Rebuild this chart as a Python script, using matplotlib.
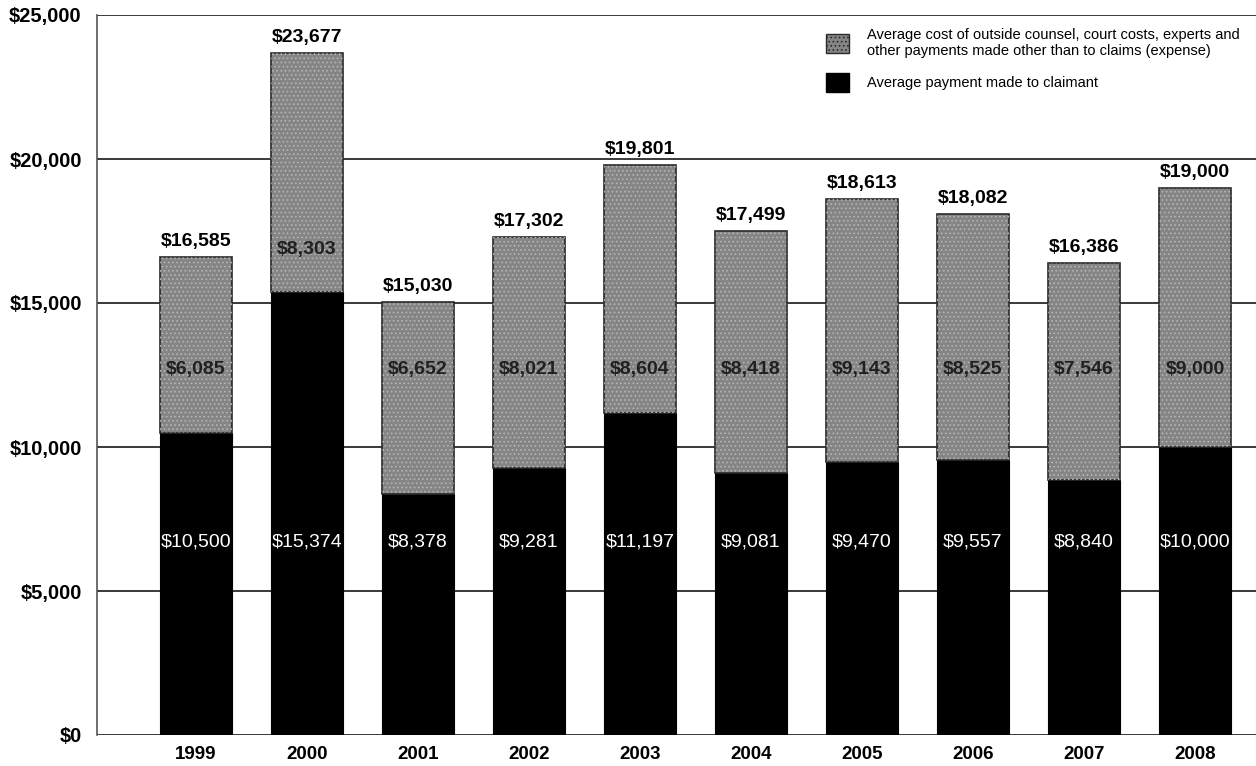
import matplotlib
matplotlib.use("Agg")
import matplotlib.pyplot as plt
from matplotlib.patches import Patch
import numpy as np

plt.rcParams['font.family'] = ['Liberation Sans', 'DejaVu Sans']
plt.rcParams['hatch.linewidth'] = 0.7

years = ['1999', '2000', '2001', '2002', '2003', '2004', '2005', '2006', '2007', '2008']
payment = [10500, 15374, 8378, 9281, 11197, 9081, 9470, 9557, 8840, 10000]
expense = [6085, 8303, 6652, 8021, 8604, 8418, 9143, 8525, 7546, 9000]
yticks = [0, 5000, 10000, 15000, 20000, 25000]

total = [p + e for p, e in zip(payment, expense)]
x = np.arange(len(years))
w = 0.65

fig = plt.figure(figsize=(12.56, 7.66), dpi=100)
ax = fig.add_axes([97 / 1256, 31 / 766, 1159 / 1256, 720 / 766])

# grid lines
for v in yticks:
    ax.axhline(v, color='#2a2a2a', lw=1.3, zorder=1)

ax.bar(x, payment, w, color='black', edgecolor='black', lw=0.8, zorder=3)
ax.bar(x, expense, w, bottom=payment, color='#858585', edgecolor='#2a2a2a', lw=1.2, zorder=3)
ax.bar(x, expense, w, bottom=payment, color='none', edgecolor='#b5b5b5', lw=0, hatch='....', zorder=4)

for i in range(len(years)):
    ax.text(x[i], total[i] + 250, f'${total[i]:,}', ha='center', va='bottom',
            fontsize=14, fontweight='bold', color='black')
    ax.text(x[i], 6700, f'${payment[i]:,}', ha='center', va='center',
            fontsize=14, color='white')
    ye = max(12700, payment[i] + 1500)
    ax.text(x[i], ye, f'${expense[i]:,}', ha='center', va='center',
            fontsize=14, fontweight='bold', color='#202020', zorder=5)

ax.set_xlim(-0.89, 9.55)
ax.set_ylim(0, 25000)
ax.set_yticks(yticks)
ax.set_yticklabels([f'${v:,}' for v in yticks], fontsize=14.5, fontweight='bold')
ax.set_xticks(x)
ax.set_xticklabels(years, fontsize=13.5, fontweight='bold')
ax.tick_params(axis='both', length=0)
ax.tick_params(axis='x', pad=8)
ax.tick_params(axis='y', pad=11)

for s in ['top', 'right', 'bottom']:
    ax.spines[s].set_visible(False)
ax.spines['left'].set_color('#555555')
ax.spines['left'].set_linestyle((0, (1, 1)))
ax.spines['left'].set_linewidth(1.2)

handles = [
    Patch(facecolor='#858585', edgecolor='#2a2a2a', hatch='....',
          label='Average cost of outside counsel, court costs, experts and\nother payments made other than to claims (expense)'),
    Patch(facecolor='black', edgecolor='black', label='Average payment made to claimant'),
]
leg = ax.legend(handles=handles, loc='upper left', bbox_to_anchor=(0.624, 0.99),
                frameon=False, fontsize=10.5, handlelength=1.6, handleheight=1.6,
                handletextpad=1.2, labelspacing=1.0, borderaxespad=0)

fig.savefig('out.png', dpi=100, facecolor='white')
